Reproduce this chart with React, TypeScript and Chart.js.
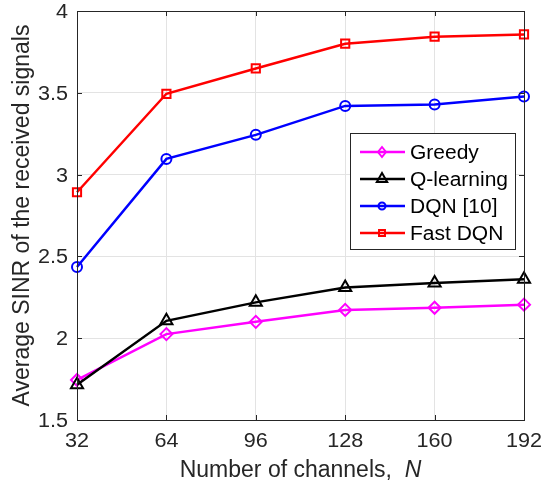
import React, { useEffect, useRef } from "react";
import { Chart, registerables } from "chart.js";

Chart.register(...registerables);

const channels = [32, 64, 96, 128, 160, 192];
const greedy = [1.745, 2.025, 2.1, 2.173, 2.186, 2.205];
const qLearning = [1.715, 2.106, 2.219, 2.31, 2.337, 2.36];
const dqn = [2.435, 3.096, 3.243, 3.42, 3.428, 3.477];
const fastDqn = [2.892, 3.494, 3.649, 3.8, 3.843, 3.857];

const seriesNames = ["Greedy", "Q-learning", "DQN [10]", "Fast DQN"];
const seriesColors = ["#ff00ff", "#000000", "#0000ff", "#ff0000"];
const seriesMarkers = ["rectRot", "triangle", "circle", "rect"];
const xTicks = [32, 64, 96, 128, 160, 192];
const yTicks = [1.5, 2, 2.5, 3, 3.5, 4];

const xTitle = "Number of channels,";
const xTitleVar = "N";
const yTitle = "Average SINR of the received signals";

const FONT = "'Liberation Sans', Arial, Helvetica, sans-serif";
const AXIS = "#262626";

const markerRadius = [6, 7, 5, 5.8];
const legendRadius = [5, 6, 3.5, 4.2];

function drawMarker(ctx: CanvasRenderingContext2D, style: string, x: number, y: number, r: number, color: string) {
  ctx.save();
  ctx.strokeStyle = color;
  ctx.lineWidth = 2;
  ctx.beginPath();
  if (style === "circle") {
    ctx.arc(x, y, r, 0, Math.PI * 2);
  } else if (style === "rect") {
    const s = r * Math.SQRT1_2;
    ctx.rect(x - s, y - s, 2 * s, 2 * s);
  } else if (style === "rectRot") {
    ctx.moveTo(x, y - r);
    ctx.lineTo(x + r * 0.8, y);
    ctx.lineTo(x, y + r);
    ctx.lineTo(x - r * 0.8, y);
    ctx.closePath();
  } else if (style === "triangle") {
    const a = (2 * Math.PI) / 3;
    ctx.moveTo(x, y - r);
    ctx.lineTo(x + Math.sin(a) * r, y - Math.cos(a) * r);
    ctx.lineTo(x + Math.sin(2 * a) * r, y - Math.cos(2 * a) * r);
    ctx.closePath();
  }
  ctx.stroke();
  ctx.restore();
}

function stretchedText(ctx: CanvasRenderingContext2D, text: string, x: number, y: number, align: "left" | "center" | "right", sx: number) {
  const w = ctx.measureText(text).width * sx;
  let left = x;
  if (align === "center") left = x - w / 2;
  if (align === "right") left = x - w;
  ctx.save();
  ctx.translate(left, y);
  ctx.scale(sx, 1);
  ctx.textAlign = "left";
  ctx.fillText(text, 0, 0);
  ctx.restore();
}

const decorPlugin = {
  id: "decor",
  afterDraw(chart: any) {
    const ctx = chart.ctx as CanvasRenderingContext2D;
    const ca = chart.chartArea;
    const xs = chart.scales.x;
    const ys = chart.scales.y;
    ctx.save();
    // box
    ctx.strokeStyle = AXIS;
    ctx.lineWidth = 1;
    ctx.strokeRect(Math.round(ca.left) + 0.5, Math.round(ca.top) + 0.5, Math.round(ca.right - ca.left), Math.round(ca.bottom - ca.top));
    // inward ticks
    const tl = 5;
    ctx.beginPath();
    xTicks.forEach((t) => {
      const px = Math.round(xs.getPixelForValue(t)) + 0.5;
      ctx.moveTo(px, ca.bottom);
      ctx.lineTo(px, ca.bottom - tl);
      ctx.moveTo(px, ca.top);
      ctx.lineTo(px, ca.top + tl);
    });
    yTicks.forEach((t) => {
      const py = Math.round(ys.getPixelForValue(t)) + 0.5;
      ctx.moveTo(ca.left, py);
      ctx.lineTo(ca.left + tl, py);
      ctx.moveTo(ca.right, py);
      ctx.lineTo(ca.right - tl, py);
    });
    ctx.stroke();

    // tick labels
    ctx.fillStyle = AXIS;
    ctx.font = `20px ${FONT}`;
    ctx.textBaseline = "alphabetic";
    xTicks.forEach((t) => {
      stretchedText(ctx, String(t), xs.getPixelForValue(t), 447, "center", 1.08);
    });
    yTicks.forEach((t) => {
      stretchedText(ctx, String(t), ca.left - 9, ys.getPixelForValue(t) + 7, "right", 1.08);
    });

    // x title
    ctx.font = `23px ${FONT}`;
    const part1 = xTitle + "  ";
    const w1 = ctx.measureText(part1).width;
    ctx.font = `italic 23px ${FONT}`;
    const w2 = ctx.measureText(xTitleVar).width;
    const cx = (ca.left + ca.right) / 2;
    const startX = cx - (w1 + w2) / 2;
    ctx.textAlign = "left";
    ctx.font = `23px ${FONT}`;
    ctx.fillText(part1, startX, 477);
    ctx.font = `italic 23px ${FONT}`;
    ctx.fillText(xTitleVar, startX + w1, 477);

    // y title
    ctx.save();
    ctx.translate(29, (ca.top + ca.bottom) / 2);
    ctx.rotate(-Math.PI / 2);
    ctx.font = `23px ${FONT}`;
    ctx.textAlign = "center";
    ctx.textBaseline = "alphabetic";
    ctx.fillText(yTitle, 0, 0);
    ctx.restore();

    // legend
    const lx = 350.5, ly = 133.5, lw = 165, lh = 116;
    ctx.fillStyle = "#ffffff";
    ctx.fillRect(lx, ly, lw, lh);
    ctx.strokeStyle = AXIS;
    ctx.lineWidth = 1;
    ctx.strokeRect(lx, ly, lw, lh);
    const rowY = [152, 179, 206, 233];
    seriesNames.forEach((name, i) => {
      const y = rowY[i];
      ctx.strokeStyle = seriesColors[i];
      ctx.lineWidth = 2.5;
      ctx.beginPath();
      ctx.moveTo(360, y);
      ctx.lineTo(405, y);
      ctx.stroke();
      drawMarker(ctx, seriesMarkers[i], 382, y, legendRadius[i], seriesColors[i]);
      ctx.fillStyle = "#000000";
      ctx.font = `20px ${FONT}`;
      ctx.textBaseline = "alphabetic";
      stretchedText(ctx, name, 410, y + 7, "left", 1.05);
    });
    ctx.restore();
  },
};

export default function App() {
  const ref = useRef<HTMLCanvasElement>(null);
  useEffect(() => {
    if (!ref.current) return;
    const all = [greedy, qLearning, dqn, fastDqn];
    const chart = new Chart(ref.current, {
      type: "line",
      data: {
        datasets: all.map((vals, i) => ({
          label: seriesNames[i],
          data: vals.map((v, j) => ({ x: channels[j], y: v })),
          borderColor: seriesColors[i],
          backgroundColor: "transparent",
          borderWidth: 2.5,
          pointStyle: seriesMarkers[i] as any,
          pointRadius: markerRadius[i],
          pointBorderWidth: 2,
          pointBorderColor: seriesColors[i],
          pointBackgroundColor: "transparent",
          tension: 0,
          clip: false as any,
          order: 4 - i,
        })),
      },
      options: {
        animation: false,
        responsive: false,
        devicePixelRatio: 1,
        layout: { padding: { left: 0, right: 19, top: 11, bottom: 0 } },
        plugins: { legend: { display: false }, tooltip: { enabled: false } },
        scales: {
          x: {
            type: "linear",
            min: 32,
            max: 192,
            afterBuildTicks: (s: any) => {
              s.ticks = xTicks.map((v) => ({ value: v }));
            },
            afterFit: (s: any) => {
              s.height = 65;
            },
            grid: { color: "#e3e3e3", drawTicks: false, lineWidth: 1 },
            border: { display: false },
            ticks: { display: false },
          },
          y: {
            type: "linear",
            min: 1.5,
            max: 4,
            afterBuildTicks: (s: any) => {
              s.ticks = yTicks.map((v) => ({ value: v }));
            },
            afterFit: (s: any) => {
              s.width = 77;
            },
            grid: { color: "#e3e3e3", drawTicks: false, lineWidth: 1 },
            border: { display: false },
            ticks: { display: false },
          },
        },
      },
      plugins: [decorPlugin],
    });
    return () => chart.destroy();
  }, []);
  return (
    <div style={{ position: "fixed", left: 0, top: 0, width: 543, height: 485, background: "#fff" }}>
      <canvas ref={ref} width={543} height={485} />
    </div>
  );
}
